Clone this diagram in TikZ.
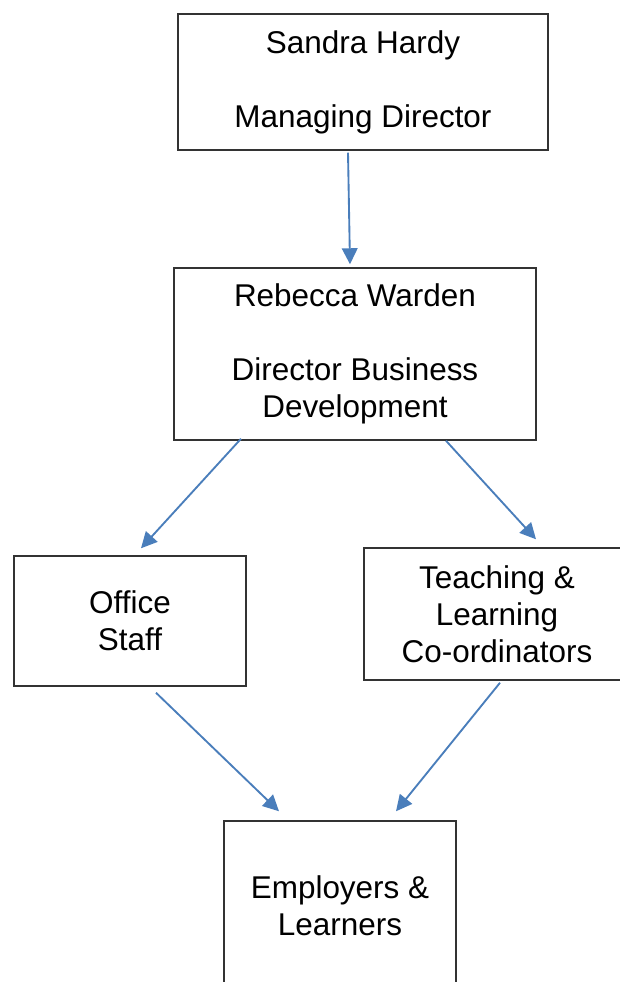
\documentclass[tikz,border=0pt]{standalone}
\usepackage{fontspec}
\setmainfont{Liberation Sans}
\usetikzlibrary{arrows.meta,calc}
\definecolor{arrowblue}{RGB}{74,126,187}
\begin{document}
\begin{tikzpicture}[x=0.75pt,y=-0.75pt,
  box/.style={draw=black!80, line width=1.1pt, rectangle, inner sep=0pt, align=center,
    font=\fontsize{23.6}{27.75}\selectfont},
  conn/.style={draw=arrowblue, line width=1.4pt, -{Triangle[length=12pt,width=11.7pt]}}]
\clip (0,0) rectangle (620,982);
\node[box, minimum width=277.5pt, minimum height=102pt] (sandra) at (363,82)
  {Sandra Hardy\\[27.75pt]Managing Director};
\node[box, minimum width=271.5pt, minimum height=129pt] (rebecca) at (355,354)
  {Rebecca Warden\\[27.75pt]Director Business\\Development};
\node[box, minimum width=174pt, minimum height=97.5pt] (office) at (130,621)
  {Office\\Staff};
\node[box, minimum width=199.5pt, minimum height=99pt] (teach) at (497,614)
  {Teaching \&\\Learning\\Co-ordinators};
\node[box, minimum width=174pt, minimum height=127.5pt] (emp) at (340,906)
  {Employers \&\\Learners};
\draw[conn] ($(sandra.south)+(-15,2)$) -- ($(rebecca.north)+(-5,-3)$);
\draw[conn] ($(rebecca.south)+(-114,-2)$) -- ($(office.north)+(11,-7)$);
\draw[conn] ($(rebecca.south)+(91,0)$) -- ($(teach.north)+(39,-8)$);
\draw[conn] ($(office.south)+(26,6)$) -- ($(emp.north)+(-61,-9)$);
\draw[conn] ($(teach.south)+(3,2)$) -- ($(emp.north)+(56,-9)$);
\end{tikzpicture}
\end{document}
